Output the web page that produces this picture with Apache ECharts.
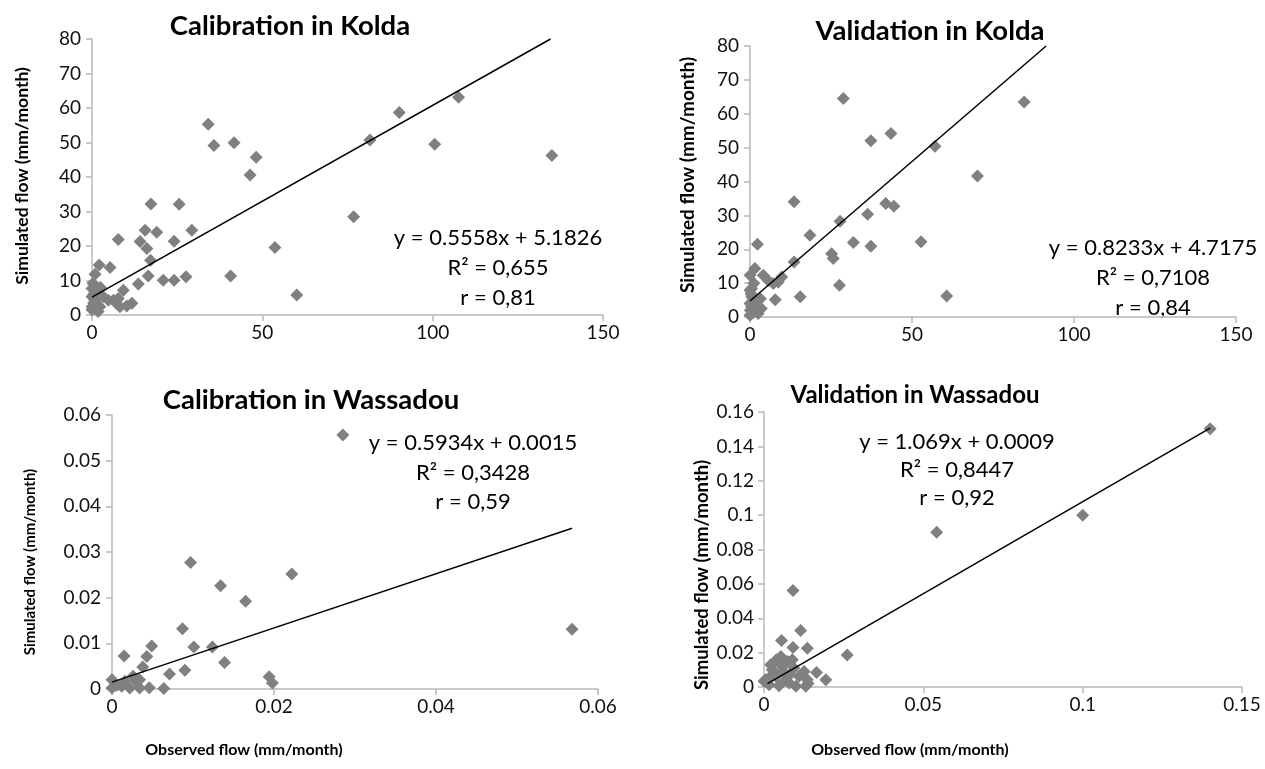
<!DOCTYPE html>
<html><head><meta charset="utf-8">
<script src="https://cdn.jsdelivr.net/npm/echarts@6/dist/echarts.min.js"></script>
<style>html,body{margin:0;padding:0;background:#fff}#c{width:1265px;height:769px}</style>
</head><body><div id="c"></div>
<script>
// ---- Data ----
const calKolda = [[0,1.5],[0,2.4],[0.5,3.5],[0,5.3],[0.5,6],[0,7.7],[0.3,9.2],[0.9,4.3],[1.8,1],[2.3,2.4],[3.3,5.3],[4.8,4.3],[1.5,6.5],[2.5,8],[1,3],[0.9,11.8],[2.1,14.5],[5.3,13.8],[7.7,21.9],[6.3,4.3],[7.2,3.4],[7.7,4.8],[8.2,2.4],[9.2,7.2],[10.2,2.6],[11.7,3.4],[13.6,9],[16.5,11.3],[17.2,15.9],[14.1,21.3],[16.1,19.3],[15.6,24.6],[19,24],[17.3,32.2],[25.6,32.1],[24.1,21.4],[29.3,24.6],[20.9,10.1],[24.1,10.1],[27.6,11.1],[34.1,55.3],[35.8,49.1],[41.7,49.9],[48.2,45.7],[46.4,40.6],[40.7,11.3],[53.7,19.6],[60.1,5.8],[76.8,28.5],[81.6,50.7],[90.2,58.7],[100.6,49.5],[107.6,63.1],[135,46.2]];
const valKolda = [[0,0.5],[0.1,2],[0,4],[0.5,3],[1.6,4.9],[3.2,5.4],[0.6,5.9],[0,7.9],[0.3,6.9],[0.5,8.4],[1,1.5],[2,3],[2.5,1],[0.8,1.2],[3.5,2.5],[1.2,10],[0,12.3],[1.5,14.3],[2.3,21.5],[4.1,12.3],[5.6,10.8],[7.2,9.9],[8.7,10.3],[9.8,11.8],[7.8,5.1],[13.6,16.2],[15.5,6],[13.6,34],[18.5,24.1],[25.2,18.7],[25.7,17.3],[27.6,9.4],[27.8,28.3],[28.8,64.5],[31.9,22],[36.3,30.3],[37.3,20.9],[37.3,52],[41.9,33.5],[43.5,54.2],[44.4,32.7],[52.8,22.2],[57.1,50.4],[60.7,6.2],[70.2,41.6],[84.6,63.5]];
const calWass = [[0,0.002],[0,0.0002],[0.0006,0.0008],[0.0012,0.0006],[0.0016,0.0017],[0.0022,0.0002],[0.0026,0.0028],[0.003,0.0017],[0.0034,0.0002],[0.0034,0.002],[0.0015,0.0072],[0.0038,0.0048],[0.0043,0.0071],[0.0049,0.0094],[0.0046,0.0003],[0.0064,0.0001],[0.0071,0.0033],[0.009,0.0041],[0.0087,0.0132],[0.0097,0.0277],[0.0101,0.0092],[0.0124,0.0092],[0.0134,0.0226],[0.0139,0.0058],[0.0165,0.0192],[0.0194,0.0027],[0.0198,0.0013],[0.0222,0.0252],[0.0285,0.0556],[0.0568,0.0131]];
const valWass = [[0,0.0033],[0.0005,0.0042],[0.0016,0.0013],[0.0021,0.013],[0.0026,0.01],[0.0037,0.0062],[0.0039,0.0158],[0.0047,0.0008],[0.0053,0.0178],[0.0055,0.0271],[0.0058,0.012],[0.0068,0.0042],[0.0074,0.0149],[0.0079,0.0023],[0.0089,0.0158],[0.0091,0.0561],[0.0091,0.023],[0.0094,0.011],[0.01,0.0004],[0.011,0.0062],[0.0115,0.0329],[0.0126,0.009],[0.0131,0.0004],[0.0136,0.0226],[0.0136,0.0042],[0.0138,0.002],[0.0165,0.0085],[0.0194,0.0042],[0.0261,0.0186],[0.003,0.008],[0.006,0.009],[0.002,0.006],[0.008,0.007],[0.0542,0.09],[0.1,0.1],[0.14,0.1503]];
// trend line endpoints
const trendCalKolda = [[0,5.18],[134.6,80]];
const trendValKolda = [[0,4.72],[91.4,80]];
const trendCalWass = [[0,0.0015],[0.0568,0.0352]];
const trendValWass = [[0.0011,0.002],[0.14,0.1506]];
// texts
const titles = ['Calibration in Kolda','Validation in Kolda','Calibration in Wassadou','Validation in Wassadou'];
const equations = [
  ['y = 0.5558x + 5.1826','R² = 0,655','r = 0,81'],
  ['y = 0.8233x + 4.7175','R² = 0,7108','r = 0,84'],
  ['y = 0.5934x + 0.0015','R² = 0,3428','r = 0,59'],
  ['y = 1.069x + 0.0009','R² = 0,8447','r = 0,92']
];
const yName = 'Simulated flow (mm/month)';
const xName = 'Observed flow (mm/month)';
// axis ranges [min,max,interval]
const xAxes = [[0,150,50],[0,150,50],[0,0.06,0.02],[0,0.15,0.05]];
const yAxes = [[0,80,10],[0,80,10],[0,0.06,0.01],[0,0.16,0.02]];

const FONT = 'Lato, "Open Sans", sans-serif';
const grids = [
  {left:92, top:39, width:511, height:276},
  {left:750, top:46, width:486, height:271},
  {left:112, top:415, width:486, height:274},
  {left:764, top:412, width:478, height:275}
];
function fmt(v){ return String(parseFloat(v.toFixed(4))); }
function axisCommon(r, margin){
  return {type:'value', min:r[0], max:r[1], interval:r[2],
    axisLine:{show:true, lineStyle:{color:'#b8b8b8', width:1.5}},
    axisTick:{show:true, length:6, lineStyle:{color:'#b8b8b8', width:1.5}},
    splitLine:{show:false},
    axisLabel:{color:'#111', fontSize:19, fontFamily:FONT, formatter:fmt, margin:margin}};
}
const xAxis = xAxes.map((r,i)=>Object.assign(axisCommon(r,8),{gridIndex:i}));
const yAxis = yAxes.map((r,i)=>Object.assign(axisCommon(r,i===3?10:11),{gridIndex:i}));
const pts = [calKolda,valKolda,calWass,valWass];
const trends = [trendCalKolda,trendValKolda,trendCalWass,trendValWass];
const series = [];
pts.forEach((d,i)=>{
  series.push({type:'scatter', xAxisIndex:i, yAxisIndex:i, data:d, symbol:'diamond', symbolSize:[13,13],
    itemStyle:{color:'#808080', opacity:1}, z:2});
  series.push({type:'line', xAxisIndex:i, yAxisIndex:i, data:trends[i], symbol:'none',
    lineStyle:{color:'#000', width:1.5}, z:3, clip:false});
});
const graphic = [];
const titlePos = [[290,26,27.5],[930,31,27.5],[311,400,27.5],[915,395,24]];
titles.forEach((t,i)=>graphic.push({type:'text', x:titlePos[i][0], y:titlePos[i][1],
  style:{text:t, font:'bold '+titlePos[i][2]+'px '+FONT, fill:'#000', align:'center', verticalAlign:'middle'}}));
const eqPos = [[498,238,30],[1153,248,30],[473,443,29.5],[957,442,28]];
equations.forEach((lines,i)=>lines.forEach((t,j)=>graphic.push({type:'text', x:eqPos[i][0], y:eqPos[i][1]+j*eqPos[i][2],
  style:{text:t, font:'22px '+FONT, fill:'#000', align:'center', verticalAlign:'middle'}})));
const yNamePos = [[22,176,17.5],[688,175,19],[30,562,15],[702,575,18.5]];
yNamePos.forEach(p=>graphic.push({type:'text', x:p[0], y:p[1], rotation:Math.PI/2,
  style:{text:yName, font:'bold '+p[2]+'px '+FONT, fill:'#000', align:'center', verticalAlign:'middle'}}));
[[244,750],[910,750]].forEach(p=>graphic.push({type:'text', x:p[0], y:p[1],
  style:{text:xName, font:'bold 16px '+FONT, fill:'#000', align:'center', verticalAlign:'middle'}}));

const chart = echarts.init(document.getElementById('c'), null, {renderer:'canvas'});
chart.setOption({animation:false, backgroundColor:'#fff', grid:grids, xAxis, yAxis, series, graphic});
</script></body></html>
